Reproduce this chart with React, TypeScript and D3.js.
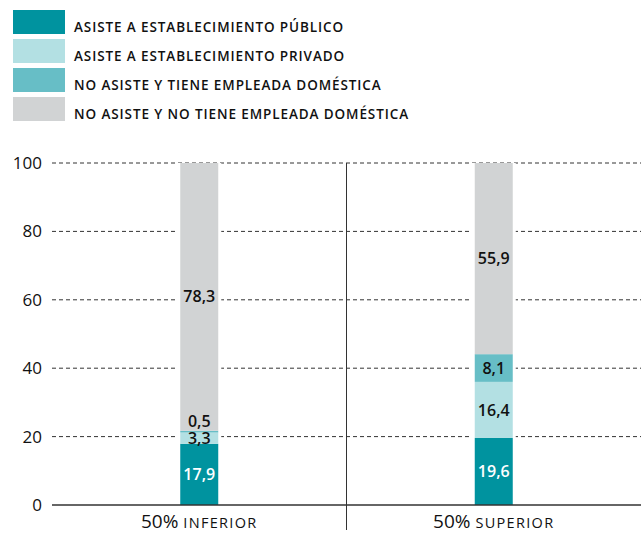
import React from "react";
import * as d3 from "d3";

const categories = ["INFERIOR", "SUPERIOR"];
const seriesNames = [
  "ASISTE A ESTABLECIMIENTO PÚBLICO",
  "ASISTE A ESTABLECIMIENTO PRIVADO",
  "NO ASISTE Y TIENE EMPLEADA DOMÉSTICA",
  "NO ASISTE Y NO TIENE EMPLEADA DOMÉSTICA",
];
const publico = [17.9, 19.6];
const privado = [3.3, 16.4];
const tieneEmpleada = [0.5, 8.1];
const noTieneEmpleada = [78.3, 55.9];
const yTicks = [0, 20, 40, 60, 80, 100];
const colors = ["#00939f", "#b3e0e3", "#67bec6", "#d1d3d4"];
const labelColors = ["#ffffff", "#111111", "#111111", "#111111"];

const W = 641;
const H = 535;
const margin = { left: 52, right: 0, top: 163, bottom: 30 };
const FONT = "'Open Sans', 'Noto Sans', sans-serif";

export default function App() {
  const series = [publico, privado, tieneEmpleada, noTieneEmpleada];
  const rows = categories.map((c, i) => ({
    cat: c,
    s0: series[0][i],
    s1: series[1][i],
    s2: series[2][i],
    s3: series[3][i],
  }));
  const stack = d3.stack<any>().keys(["s0", "s1", "s2", "s3"]);
  const stacked = stack(rows);

  const x = d3
    .scaleBand<string>()
    .domain(categories)
    .range([margin.left, W - margin.right]);
  const y = d3.scaleLinear().domain([0, 100]).range([505, margin.top]);
  const barW = 38;

  const fmt = (v: number) => v.toFixed(1).replace(".", ",");

  return (
    <svg
      width={W}
      height={H}
      style={{ position: "absolute", left: 0, top: 0, background: "#fff" }}
      fontFamily={FONT}
    >
      {/* Legend */}
      {seriesNames.map((n, i) => (
        <g key={n} transform={`translate(13, ${10 + i * 29})`}>
          <rect width={52} height={24} fill={colors[i]} />
          <text
            x={61}
            y={22}
            fontSize={13.5}
            letterSpacing={0.9}
            fill="#111"
            fontWeight={600}
          >
            {n}
          </text>
        </g>
      ))}

      {/* Gridlines */}
      {yTicks
        .filter((t) => t > 0)
        .map((t) => (
          <line
            key={t}
            x1={margin.left}
            x2={W}
            y1={y(t)}
            y2={y(t)}
            stroke="#333"
            strokeWidth={1}
            strokeDasharray="4,3"
          />
        ))}

      {/* Y tick labels */}
      {yTicks.map((t) => (
        <text
          key={t}
          x={42}
          y={y(t)}
          dy="0.35em"
          textAnchor="end"
          fontSize={17}
          fill="#111"
        >
          {t}
        </text>
      ))}

      {/* Divider */}
      <line
        x1={margin.left + (W - margin.left) / 2}
        x2={margin.left + (W - margin.left) / 2}
        y1={y(100)}
        y2={530}
        stroke="#333"
        strokeWidth={1}
      />

      {/* Bars */}
      {categories.map((c) => {
        const cx = (x(c) as number) + x.bandwidth() / 2;
        return (
          <rect
            key={"bg" + c}
            x={cx - barW / 2 - 3}
            y={y(100)}
            width={barW + 6}
            height={y(0) - y(100)}
            fill="#fff"
          />
        );
      })}
      {stacked.map((layer, si) =>
        layer.map((d, ci) => {
          const cx = (x(categories[ci]) as number) + x.bandwidth() / 2;
          return (
            <rect
              key={si + "-" + ci}
              x={cx - barW / 2}
              y={y(d[1])}
              width={barW}
              height={y(d[0]) - y(d[1])}
              fill={colors[si]}
            />
          );
        })
      )}

      {/* Value labels */}
      {stacked.map((layer, si) =>
        layer.map((d, ci) => {
          const cx = (x(categories[ci]) as number) + x.bandwidth() / 2;
          const v = series[si][ci];
          const small = v < 2;
          const ly = small ? y(d[1]) - 9 : y((d[0] + d[1]) / 2);
          return (
            <text
              key={"l" + si + "-" + ci}
              x={cx}
              y={ly}
              dy="0.35em"
              textAnchor="middle"
              fontSize={16}
              fontWeight={600}
              fill={labelColors[si]}
            >
              {fmt(v)}
            </text>
          );
        })
      )}

      {/* Axis baseline */}
      <line
        x1={margin.left}
        x2={W}
        y1={y(0)}
        y2={y(0)}
        stroke="#333"
        strokeWidth={1.5}
      />

      {/* Category labels */}
      {categories.map((c) => {
        const cx = (x(c) as number) + x.bandwidth() / 2;
        return (
          <text
            key={"c" + c}
            x={cx}
            y={528}
            textAnchor="middle"
            fill="#111"
          >
            <tspan fontSize={19}>50% </tspan>
            <tspan fontSize={14.5} letterSpacing={1.3} fontWeight={500}>
              {c}
            </tspan>
          </text>
        );
      })}
    </svg>
  );
}
